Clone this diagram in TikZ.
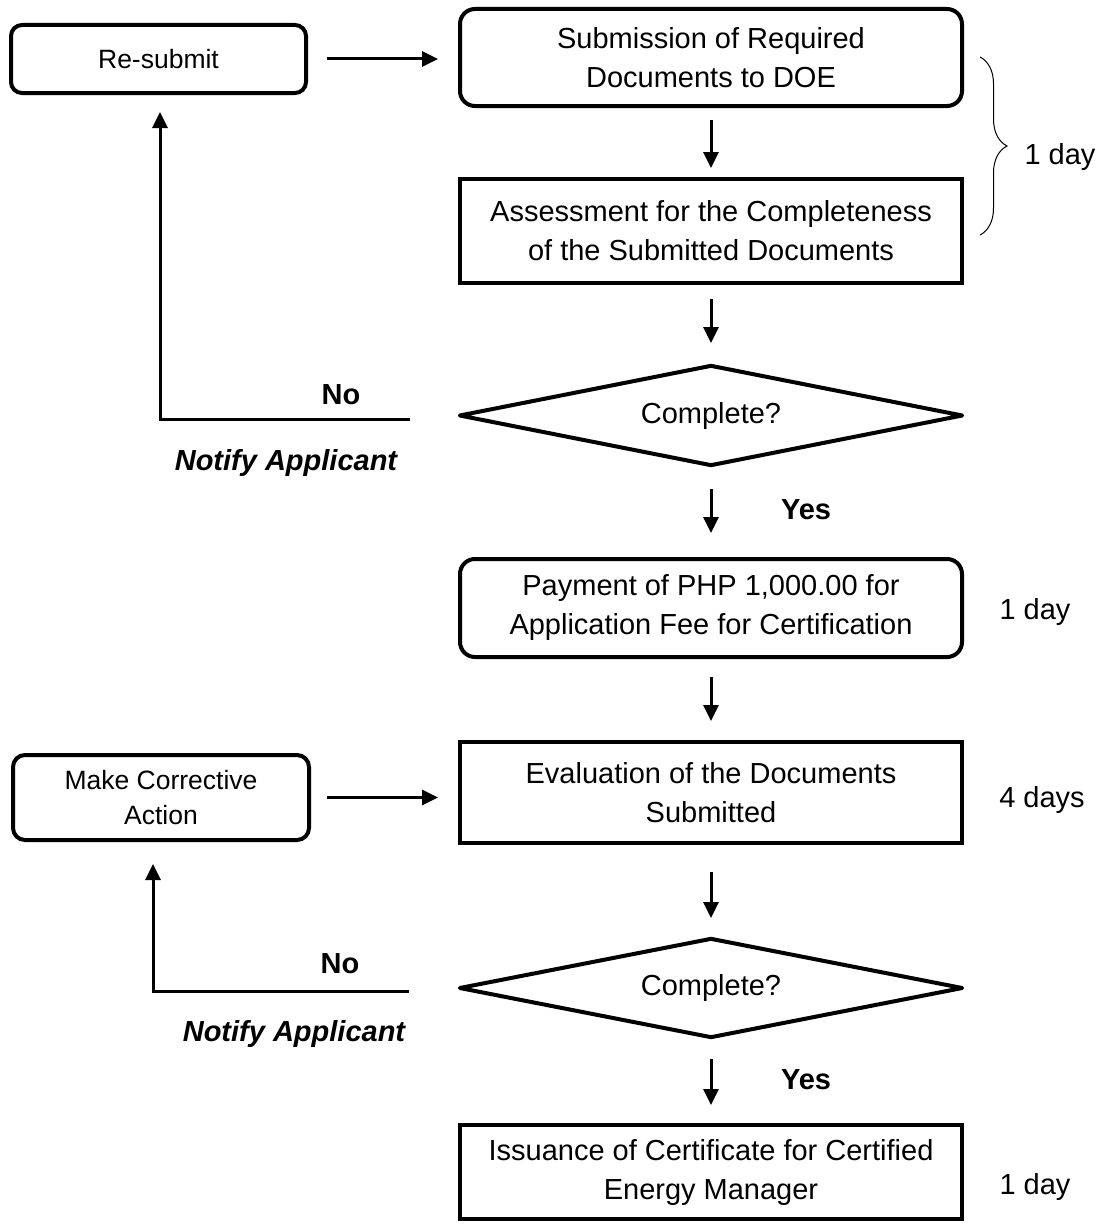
\documentclass[tikz,border=0pt]{standalone}
\usepackage{fontspec}
\setmainfont{Liberation Sans}
\usetikzlibrary{shapes.geometric,arrows.meta,decorations.pathreplacing}
\begin{document}
\begin{tikzpicture}[x=1pt,y=-1pt,
  txt/.style={font=\fontsize{29}{39}\selectfont, align=center},
  smalltxt/.style={font=\fontsize{26.5}{35}\selectfont, align=center},
  rbox/.style={draw, line width=4pt, rounded corners=15pt, inner sep=0pt, txt},
  sbox/.style={draw, line width=4pt, inner sep=0pt, txt},
  dec/.style={draw, diamond, aspect=5, line width=4pt, line join=round, inner sep=0pt, txt},
  arr/.style={line width=3pt, -{Triangle[length=16pt,width=15pt]}},
  lbl/.style={font=\fontsize{29}{35}\selectfont\bfseries},
  note/.style={font=\fontsize{29}{35}\selectfont\bfseries\itshape},
  dur/.style={font=\fontsize{29}{35}\selectfont}
]
\useasboundingbox (0,0) rectangle (1098,1231);
% nodes
\node[rbox, rounded corners=11pt, smalltxt, minimum width=295pt, minimum height=68pt] (resub) at (158.5,59) {Re-submit};
\node[rbox, minimum width=502pt, minimum height=97pt] (sub) at (711,57.5) {Submission of Required\\Documents to DOE};
\node[sbox, minimum width=502pt, minimum height=104pt] (ass) at (711,231) {Assessment for the Completeness\\of the Submitted Documents};
\node[dec, minimum width=504pt, minimum height=101pt] (d1) at (711,415.5) {Complete?};
\node[rbox, minimum width=502pt, minimum height=98pt] (pay) at (711,608) {Payment of PHP 1,000.00 for\\Application Fee for Certification};
\node[sbox, minimum width=502pt, minimum height=101pt] (ev) at (711,792.5) {Evaluation of the Documents\\Submitted};
\node[rbox, rounded corners=12pt, smalltxt, minimum width=296pt, minimum height=85pt] (mca) at (161,797.5) {Make Corrective\\Action};
\node[dec, minimum width=504pt, minimum height=100pt] (d2) at (711,988) {Complete?};
\node[sbox, minimum width=502pt, minimum height=94pt] (iss) at (711,1172) {Issuance of Certificate for Certified\\Energy Manager};
% labels
\node[lbl] (no1) at (341,395) {No};
\node[note] (na1) at (286,463) {Notify Applicant};
\node[lbl] (yes1) at (806,510) {Yes};
\node[lbl] (no2) at (340,964) {No};
\node[note] (na2) at (294,1034) {Notify Applicant};
\node[lbl] (yes2) at (806,1080) {Yes};
\node[dur] (t1) at (1060,157) {1 day};
\node[dur] (t2) at (1035,612) {1 day};
\node[dur] (t3) at (1042,800) {4 days};
\node[dur] (t4) at (1035,1187) {1 day};
% connectors
\draw[arr, shorten <=19pt, shorten >=20pt] (resub.east) -- (resub.east -| sub.west);
\draw[arr, shorten <=12pt, shorten >=9pt] (sub.south) -- (ass.north);
\draw[arr, shorten <=14pt, shorten >=20pt] (ass.south) -- (d1.north);
\draw[arr, shorten <=21pt, shorten >=24pt] (d1.south) -- (pay.north);
\draw[arr, shorten <=18pt, shorten >=19pt] (pay.south) -- (ev.north);
\draw[arr, shorten <=27pt, shorten >=18pt] (ev.south) -- (d2.north);
\draw[arr, shorten <=19pt, shorten >=18pt] (d2.south) -- (iss.north);
\draw[arr, shorten <=16pt, shorten >=20pt] (mca.east) -- (mca.east -| ev.west);
\coordinate (n1) at (410,419);
\coordinate (n2) at (409,991);
\draw[arr, line join=miter, shorten >=17pt] (n1) -| ([xshift=1.5pt]resub.south);
\draw[arr, line join=miter, shorten >=22pt] (n2) -| ([xshift=-8pt]mca.south);
% brace
\draw[line width=1pt, decorate, decoration={brace, amplitude=27pt}] (980,57) -- (980,235);
\end{tikzpicture}
\end{document}
